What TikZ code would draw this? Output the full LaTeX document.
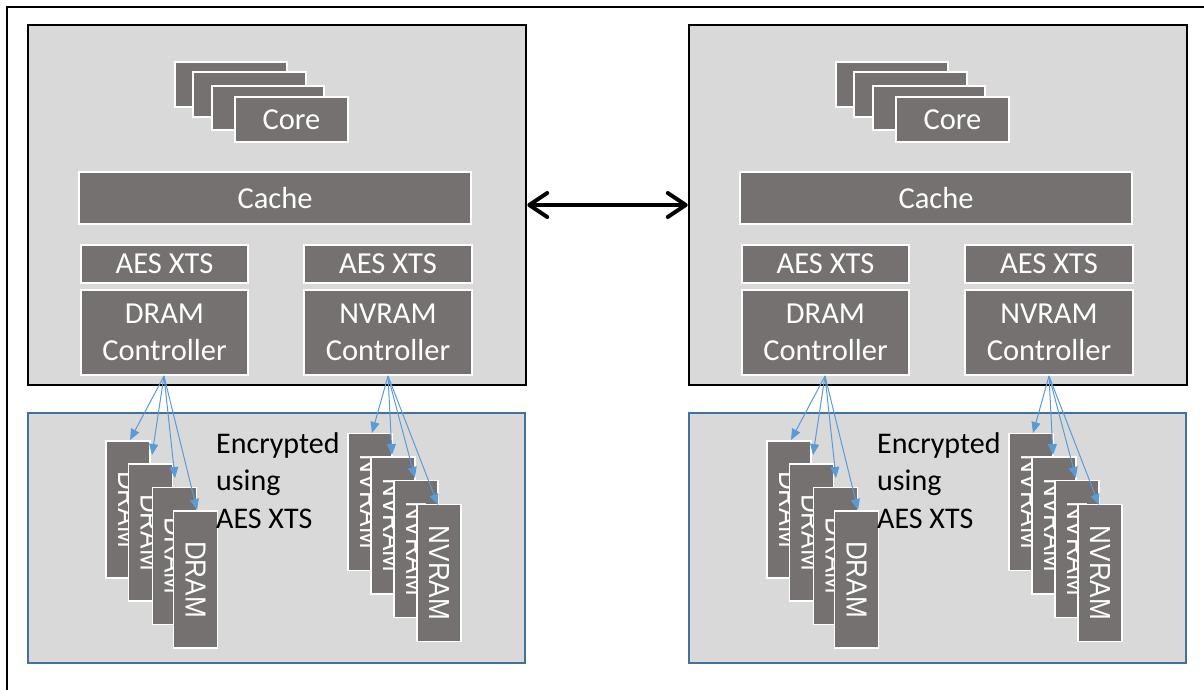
\documentclass[tikz,border=0pt]{standalone}
\usepackage{fontspec}
\usepackage{graphicx}
\usetikzlibrary{arrows.meta}
\newfontfamily\carlito{Carlito}
\newfontfamily\arialf{Liberation Sans}
\definecolor{dark}{HTML}{767171}
\definecolor{panel}{HTML}{D9D9D9}
\definecolor{memblue}{HTML}{41719C}
\definecolor{arrblue}{HTML}{5B9BD5}
\tikzset{
  cpubox/.style={draw=black,line width=2.5pt,fill=panel,inner sep=0pt},
  membox/.style={draw=memblue,line width=2pt,fill=panel,inner sep=0pt},
  dbox/.style={draw=white,line width=1.5pt,fill=dark,text=white,inner sep=0pt,align=center,
    font=\carlito\fontsize{30.5}{37.5}\selectfont},
  cardbox/.style={draw=white,line width=1.5pt,fill=dark,text=white,inner sep=0pt,
    font=\arialf\fontsize{29}{30}\selectfont,minimum width=44pt,minimum height=137pt},
  enctext/.style={inner sep=0pt,align=left,text=black,font=\carlito\fontsize{30}{37.5}\selectfont},
  memarrow/.style={draw=arrblue,line width=1pt,-{Triangle[length=11pt,width=9pt]}},
  dblarrow/.style={draw=black,line width=4pt,line cap=round,
    {Straight Barb[length=18pt,width=24pt,line cap=round,line join=round]}-{Straight Barb[length=18pt,width=24pt,line cap=round,line join=round]}},
  frameline/.style={draw=black,line width=2.5pt}
}
\newcommand\cardtxt[1]{\rotatebox{-90}{\scalebox{0.9}[1]{#1}}}
\newcommand\drawside[2]{%
\begin{scope}[xshift=#1pt]
\node[cpubox,minimum width=498pt,minimum height=360pt] (#2cpu) at (277,205) {};
\node[membox,minimum width=497pt,minimum height=250pt] (#2mem) at (276.5,538) {};
\node[dbox,minimum width=112pt,minimum height=45pt] (#2coreA) at (231,84.5) {};
\node[dbox,minimum width=113pt,minimum height=45pt] (#2coreB) at (249.5,94.5) {};
\node[dbox,minimum width=112pt,minimum height=44pt] (#2coreC) at (268,108) {};
\node[dbox,minimum width=113pt,minimum height=45pt] (#2coreD) at (291.5,119.5) {Core};
\node[dbox,minimum width=392pt,minimum height=52pt] (#2cache) at (275,198) {Cache};
\node[dbox,minimum width=167pt,minimum height=38pt] (#2aesA) at (164.5,264) {AES XTS};
\node[dbox,minimum width=167pt,minimum height=85pt] (#2dctl) at (164.5,332.5) {DRAM\\Controller};
\node[dbox,minimum width=168pt,minimum height=38pt] (#2aesB) at (388,264) {AES XTS};
\node[dbox,minimum width=168pt,minimum height=85pt] (#2nctl) at (388,332.5) {NVRAM\\Controller};
\node[cardbox] (#2dA) at (128,509.5) {\cardtxt{DRAM}};
\node[cardbox] (#2dB) at (150.5,532.5) {\cardtxt{DRAM}};
\node[cardbox] (#2dC) at (174.5,556) {\cardtxt{DRAM}};
\node[cardbox] (#2dD) at (195.5,579.5) {\cardtxt{DRAM}};
\node[cardbox] (#2nA) at (370,502) {\cardtxt{NVRAM}};
\node[cardbox] (#2nB) at (393,525.5) {\cardtxt{NVRAM}};
\node[cardbox] (#2nC) at (416,549) {\cardtxt{NVRAM}};
\node[cardbox] (#2nD) at (439,573) {\cardtxt{NVRAM}};
\node[enctext,anchor=north west] (#2enc) at (216,432) {Encrypted\\using\\AES XTS};
\coordinate (#2deA) at (130,440);
\coordinate (#2deB) at (152,455);
\coordinate (#2deC) at (175,478);
\coordinate (#2deD) at (197,510);
\coordinate (#2neA) at (372,433);
\coordinate (#2neB) at (392,455);
\coordinate (#2neC) at (415,478);
\coordinate (#2neD) at (438,505);
\coordinate (#2dsrc) at (164,376);
\coordinate (#2nsrc) at (388,376);
\foreach \e in {A,B,C,D}{
  \draw[memarrow] (#2dsrc) -- (#2de\e);
  \draw[memarrow] (#2nsrc) -- (#2ne\e);
}
\end{scope}}
\begin{document}
\begin{tikzpicture}[x=1pt,y=-1pt]
\useasboundingbox (0,0) rectangle (1204,690);
\fill[white] (0,0) rectangle (1204,690);
\coordinate (frBL) at (7,692);
\coordinate (frTL) at (7,7);
\coordinate (frTR) at (1206,7);
\draw[frameline] (frBL) -- (frTL) -- (frTR);
\drawside{0}{L}
\drawside{661}{R}
\draw[dblarrow] (Lcpu.east) -- (Rcpu.west);
\end{tikzpicture}
\end{document}
